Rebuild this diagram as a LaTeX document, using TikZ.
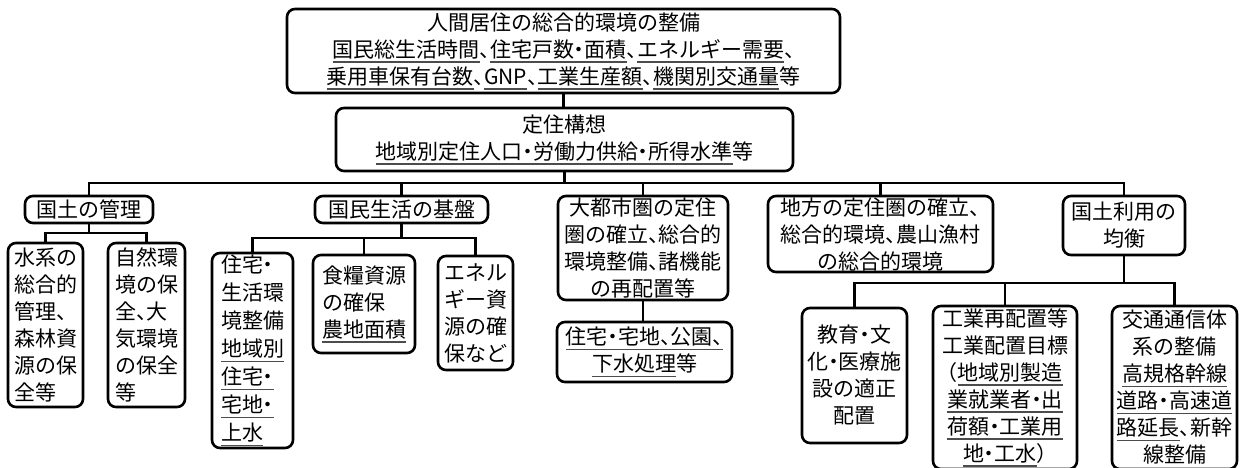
\documentclass[tikz,border=0pt]{standalone}
\usepackage{fontspec}
\setmainfont{Noto Sans CJK JP}[RawFeature=+halt]
\newcommand\myul[1]{\setbox0=\hbox{#1}\rlap{\color{black!70}\rule[-5.5pt]{\wd0}{1.3pt}}\box0}
\tikzset{
  bx/.style={draw, line width=2.6pt, rounded corners=8pt, inner sep=0pt, font=\fontsize{21pt}{27pt}\selectfont},
  ln/.style={line width=2.6pt},
}
\begin{document}
\begin{tikzpicture}[x=1pt,y=-1pt]
\useasboundingbox (0,0) rectangle (1243,468);
% level 0
\node[bx, align=center, minimum width=553pt, minimum height=84pt] (top) at (563.5,51)
  {人間居住の総合的環境の整備\\\myul{国民総生活時間}、\myul{住宅戸数・面積}、\myul{エネルギー需要}、\\\myul{乗用車保有台数}、\myul{GNP}、\myul{工業生産額}、\myul{機関別交通量}等};
\node[bx, align=center, minimum width=457pt, minimum height=63pt] (sec) at (564.5,139.5)
  {定住構想\\\myul{地域別定住人口・労働力供給・所得水準}等};
% level 1
\node[bx, align=center, minimum width=128pt, minimum height=27pt] (kanri) at (89,209.5) {国土の管理};
\node[bx, align=center, minimum width=173pt, minimum height=27pt] (kiban) at (401.5,209.5) {国民生活の基盤};
\node[bx, align=center, minimum width=170pt, minimum height=104pt] (toshi) at (643,248)
  {大都市圏の定住\\圏の確立、総合的\\環境整備、諸機能\\の再配置等};
\node[bx, align=center, minimum width=225pt, minimum height=76pt] (chihou) at (880.5,234)
  {地方の定住圏の確立、\\総合的環境、農山漁村\\の総合的環境};
\node[bx, align=center, minimum width=122pt, minimum height=59pt] (riyou) at (1124,225.5)
  {国土利用の\\均衡};
% level 2
\node[bx, align=left, minimum width=75pt, minimum height=164pt] (suikei) at (45.5,325)
  {水系の\\総合的\\管理、\\森林資\\源の保\\全等};
\node[bx, align=left, minimum width=77pt, minimum height=164pt] (shizen) at (146.5,325)
  {自然環\\境の保\\全、大\\気環境\\の保全\\等};
\node[bx, align=left, minimum width=81pt, minimum height=195pt, font=\fontsize{21pt}{28pt}\selectfont] (jutaku) at (252.5,350.5)
  {住宅・\\生活環\\境整備\\\myul{地域別}\\\myul{住宅・}\\\myul{宅地・}\\\myul{上水}};
\node[bx, align=left, minimum width=102pt, minimum height=98pt] (shokuryo) at (364,304)
  {食糧資源\\の確保\\\myul{農地面積}};
\node[bx, align=left, minimum width=75pt, minimum height=114pt] (energy) at (475.5,313)
  {エネル\\ギー資\\源の確\\保など};
\node[bx, align=center, minimum width=175pt, minimum height=60pt] (toshic) at (644.5,352)
  {\myul{住宅・宅地、公園、}\\\myul{下水処理}等};
\node[bx, align=center, minimum width=105pt, minimum height=135pt] (kyouiku) at (854.5,375.5)
  {教育・文\\化・医療施\\設の適正\\配置};
\node[bx, align=center, minimum width=144pt, minimum height=163pt] (kougyou) at (1005,387.5)
  {工業再配置等\\工業配置目標\\（\myul{地域別製造}\\\myul{業就業者・出}\\\myul{荷額・工業用}\\\myul{地・工水}）};
\node[bx, align=center, minimum width=125pt, minimum height=163pt] (koutsuu) at (1174.5,387.5)
  {交通通信体\\系の整備\\\myul{高規格幹線}\\\myul{道路・高速道}\\\myul{路延長}、新幹\\線整備};
% connectors
\coordinate (busA) at (0,183);
\coordinate (busB) at (0,233);
\coordinate (busC) at (0,238);
\coordinate (busD) at (0,283);
\draw[ln] (top.south) -- (top.south |- sec.north);
\draw[ln] (sec.south) -- (sec.south |- busA);
\draw[ln] (kanri.north) -- (kanri.north |- busA) -- (riyou.north |- busA) -- (riyou.north);
\draw[ln] (kiban.north) -- (kiban.north |- busA);
\draw[ln] (toshi.north) -- (toshi.north |- busA);
\draw[ln] (chihou.north) -- (chihou.north |- busA);
\draw[ln] (kanri.south) -- (kanri.south |- busB);
\draw[ln] (suikei.north) -- (suikei.north |- busB) -- (shizen.north |- busB) -- (shizen.north);
\draw[ln] (kiban.south) -- (kiban.south |- busC);
\draw[ln] (jutaku.north) -- (jutaku.north |- busC) -- (energy.north |- busC) -- (energy.north);
\draw[ln] (shokuryo.north) -- (shokuryo.north |- busC);
\draw[ln] (toshi.south) -- (toshi.south |- toshic.north);
\draw[ln] (riyou.south) -- (riyou.south |- busD);
\draw[ln] (kyouiku.north) -- (kyouiku.north |- busD) -- (koutsuu.north |- busD) -- (koutsuu.north);
\draw[ln] (kougyou.north) -- (kougyou.north |- busD);
\end{tikzpicture}
\end{document}
